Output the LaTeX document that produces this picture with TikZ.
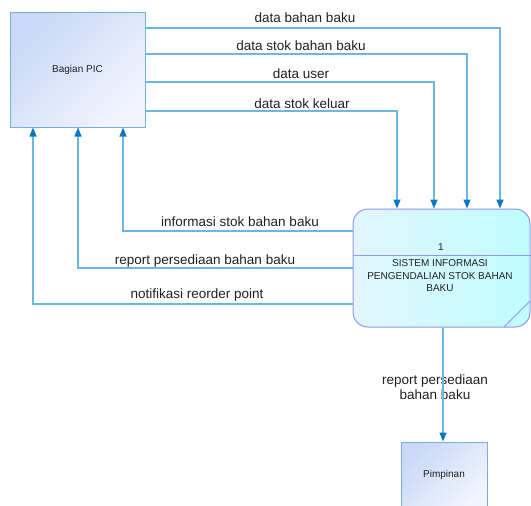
\documentclass[tikz,border=0pt]{standalone}
\usepackage{fontspec}
\setmainfont{Liberation Sans}
\usetikzlibrary{arrows.meta}
\definecolor{flowline}{HTML}{6CB6E4}
\definecolor{flowtip}{HTML}{0A78C0}
\definecolor{extborder}{HTML}{72B2DA}
\definecolor{extfillA}{HTML}{C8D8F6}
\definecolor{extfillB}{HTML}{F2F4FF}
\definecolor{procborder}{HTML}{9494EE}
\definecolor{procfillA}{HTML}{E2F6FE}
\definecolor{procfillB}{HTML}{BEFCFF}
\definecolor{textcol}{HTML}{202020}
\tikzset{
  entity/.style={draw=extborder, line width=1pt, rectangle,
    top color=extfillA, bottom color=extfillB, shading angle=45,
    font=\fontsize{10}{12}\selectfont, text=textcol, inner sep=0pt},
  process/.style={draw=procborder, line width=1pt, rectangle, rounded corners=15pt,
    left color=procfillA, right color=procfillB,
    minimum width=177pt, minimum height=118pt, inner sep=0pt},
  flow/.style={draw=flowline, line width=1.4pt,
    -{Triangle[length=9pt,width=7pt,color=flowtip]}},
  flowlabel/.style={font=\fontsize{13.5}{15}\selectfont, text=textcol, inner sep=0pt},
  proctext/.style={font=\fontsize{10}{12.5}\selectfont, text=textcol, align=center, inner sep=0pt}
}
\begin{document}
\begin{tikzpicture}[x=1pt,y=-1pt]
\useasboundingbox (0,0) rectangle (531,506);

% external entities and the process
\node[entity, minimum width=135pt, minimum height=115pt] (pic) at (77.5,69.5) {Bagian PIC};
\node[process] (proc) at (441.5,268) {};
\node[entity, minimum width=86pt, minimum height=66pt] (pim) at (444,475) {};
\node[font=\fontsize{10}{12}\selectfont, text=textcol] (pimtext) at (pim) {Pimpinan};

% process header and body
\draw[procborder, line width=1pt] (proc.west |- 0,255) -- (proc.east |- 0,255);
\draw[procborder, line width=1pt] (504,327) -- (530,301);
\node[proctext] (procid) at (441,247) {1};
\node[proctext] (procname) at (440,276) {SISTEM INFORMASI\\PENGENDALIAN STOK BAHAN\\BAKU};

% flows from Bagian PIC into the process
\draw[flow] (pic.east |- 0,28) -| (500,0 |- proc.north);
\draw[flow] (pic.east |- 0,54) -| (467,0 |- proc.north);
\draw[flow] (pic.east |- 0,82) -| (434,0 |- proc.north);
\draw[flow] (pic.east |- 0,111) -| (397,0 |- proc.north);

\node[flowlabel] (l1) at (305,18) {data bahan baku};
\node[flowlabel] (l2) at (301,46) {data stok bahan baku};
\node[flowlabel] (l3) at (301,74) {data user};
\node[flowlabel] (l4) at (302,104) {data stok keluar};

% flows from the process back to Bagian PIC
\draw[flow] (proc.west |- 0,231) -| (123,0 |- pic.south);
\draw[flow] (proc.west |- 0,268) -| (78,0 |- pic.south);
\draw[flow] (proc.west |- 0,304) -| (33,0 |- pic.south);

\node[flowlabel] (l5) at (240,222) {informasi stok bahan baku};
\node[flowlabel] (l6) at (205,261) {report persediaan bahan baku};
\node[flowlabel] (l7) at (197,295) {notifikasi reorder point};

% flow from the process to Pimpinan
\node[flowlabel, align=center] (l8) at (435,387) {report persediaan\\bahan baku};
\draw[flow] (443,0 |- proc.south) -- (443,0 |- pim.north);
\end{tikzpicture}
\end{document}
